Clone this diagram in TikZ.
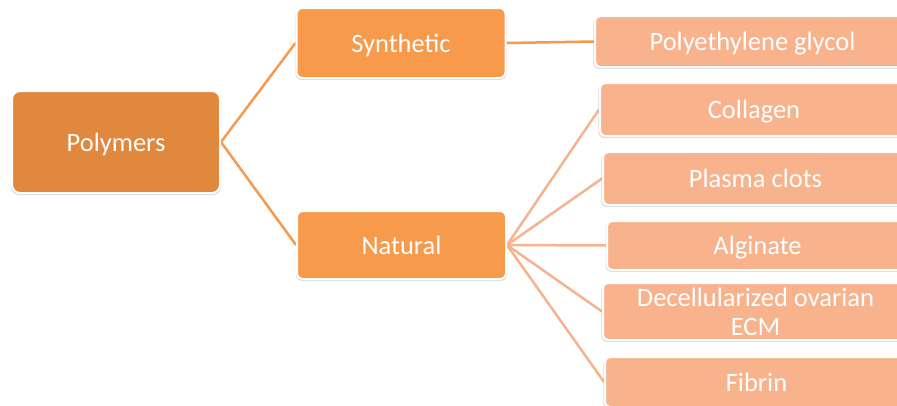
\documentclass[tikz,border=0pt]{standalone}
\usepackage{fontspec}
\setmainfont{Carlito}
\usetikzlibrary{shadows,backgrounds}
\definecolor{rootc}{HTML}{E0883E}
\definecolor{midc}{HTML}{F79A4C}
\definecolor{leafc}{HTML}{F9B38C}
\definecolor{linea}{HTML}{F59A50}
\definecolor{lineb}{HTML}{F6B38E}
\tikzset{
  box/.style={draw=white, line width=2pt, text=white, inner sep=0pt,
    font=\fontsize{26.5}{29}\selectfont,
    drop shadow={shadow xshift=0pt, shadow yshift=-1.5pt, shadow scale=1.01, opacity=0.4, fill=gray!70}},
  oneline/.style={text height=18.5pt, text depth=0.5pt},
  rootbox/.style={box, oneline, fill=rootc, rounded corners=8pt, minimum width=208pt, minimum height=102pt},
  midbox/.style={box, oneline, fill=midc, rounded corners=6pt, minimum width=209pt},
  leafbox/.style={box, fill=leafc, rounded corners=5pt},
  conna/.style={draw=linea, line width=2.5pt},
  connb/.style={draw=lineb, line width=2.5pt},
}
\begin{document}
\begin{tikzpicture}[x=1pt,y=-1pt]
\clip (0,0) rectangle (897,405);
\node[rootbox] (poly) at (116,142) {Polymers};
\node[midbox, minimum height=70pt] (syn) at (401,43) {Synthetic};
\node[midbox, minimum height=68pt] (nat) at (401.5,245) {Natural};
\node[leafbox, oneline, minimum width=315pt, minimum height=51pt] (peg) at (752.5,41.5) {Polyethylene glycol};
\node[leafbox, oneline, minimum width=308pt, minimum height=53pt] (col) at (754,109.5) {Collagen};
\node[leafbox, oneline, minimum width=305pt, minimum height=53pt] (pla) at (755.5,178.5) {Plasma clots};
\node[leafbox, oneline, minimum width=301pt, minimum height=49pt] (alg) at (757.5,245.5) {Alginate};
\node[leafbox, minimum width=305pt, minimum height=57pt, align=center] (dec) at (755.5,311.5) {Decellularized ovarian\\ECM};
\node[leafbox, oneline, minimum width=303pt, minimum height=50pt] (fib) at (756.5,382) {Fibrin};
\begin{scope}[on background layer]
\fill[white] (0,0) rectangle (897,405);
\draw[conna] (poly.east) -- (syn.west);
\draw[conna] (poly.east) -- (nat.west);
\draw[conna] (syn.east) -- (peg.west);
\draw[connb] (nat.east) -- (col.west);
\draw[connb] (nat.east) -- (pla.west);
\draw[connb] (nat.east) -- (alg.west);
\draw[connb] (nat.east) -- (dec.west);
\draw[connb] (nat.east) -- (fib.west);
\end{scope}
\end{tikzpicture}
\end{document}
